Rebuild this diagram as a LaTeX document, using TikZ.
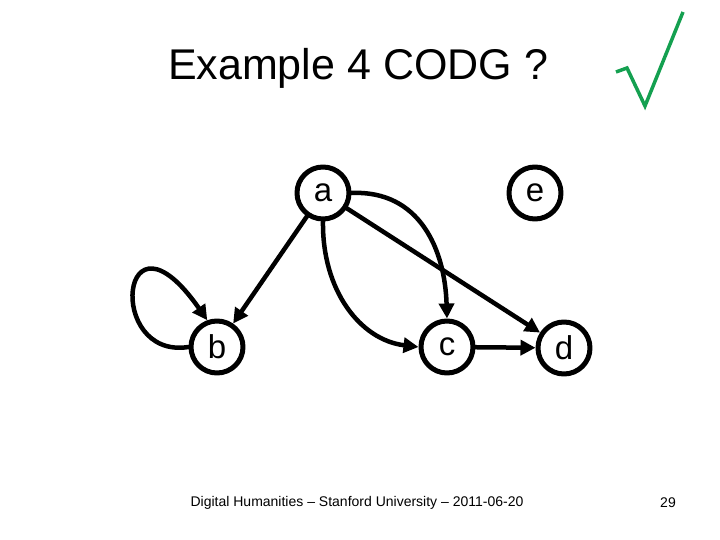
\documentclass[tikz,border=0pt]{standalone}
\usepackage{fontspec}
\setmainfont{Liberation Sans}
\usetikzlibrary{arrows.meta}
\definecolor{verde}{RGB}{20,160,80}
\begin{document}
\begin{tikzpicture}[x=1pt,y=1pt,line join=round,line cap=round,
    vertice/.style={circle,draw,line width=5pt,inner sep=0pt,minimum size=52pt,
      font=\fontsize{33}{33}\selectfont},
    arco/.style={line width=4.5pt,-{Triangle[length=15pt,width=15pt]}}]
  \useasboundingbox (0,0) rectangle (720,540);

  % ---- titolo e segno di spunta -------------------------------------------
  \node (titolo) at (358,472) {\fontsize{43}{43}\selectfont Example 4 CODG ?};
  \draw[verde,line width=3.5pt,line cap=butt,line join=miter]
    (616,468) -- (627,472) -- (645,434) -- (683,528);

  % ---- i vertici del grafo ------------------------------------------------
  \node[vertice] (a) at (323,347) {a};
  \node[vertice] (e) at (535,347) {e};
  \node[vertice] (b) at (217,193) {b};
  \node[vertice] (c) at (447,193) {c};
  \node[vertice] (d) at (564,192) {d};

  % ---- gli archi ----------------------------------------------------------
  \draw[arco] (a) -- (b);
  \draw[arco] (b.west) .. controls (105,180) and (120,345) .. (b.110);
  \draw[arco] (a.south) .. controls (322,250) and (360,200) .. (c.west);
  \draw[arco] (a.east) .. controls (420,350) and (445,290) .. (c.north);
  \draw[arco] (a) -- (d);
  \draw[arco] (c) -- (d);

  % ---- pie' di pagina -----------------------------------------------------
  \node (piede) at (357,37) {\fontsize{14}{14}\selectfont Digital Humanities -- Stanford University -- 2011-06-20};
  \node (pagina) at (668,37) {\fontsize{14}{14}\selectfont 29};

\end{tikzpicture}
\end{document}
